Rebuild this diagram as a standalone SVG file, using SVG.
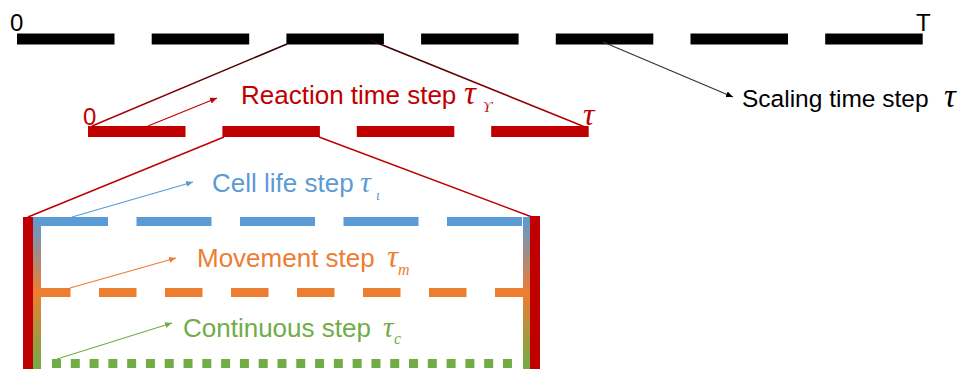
<svg xmlns="http://www.w3.org/2000/svg" width="965" height="372" viewBox="0 0 965 372">
<style>
.sans{font-family:"Liberation Sans",Arial,sans-serif}
.tau{font-family:"Liberation Serif","Times New Roman",serif;font-style:italic}
.thin{fill:none;stroke-width:1.2}
</style>
<defs>
<linearGradient id="topLine" x1="0" y1="0" x2="0" y2="1">
<stop offset="0" stop-color="#2a0000"/><stop offset="1" stop-color="#C00000"/>
</linearGradient>
<linearGradient id="sideBar" gradientUnits="userSpaceOnUse" x1="0" y1="217" x2="0" y2="369">
<stop offset="0" stop-color="#5B9BD5"/><stop offset="0.5" stop-color="#ED7D31"/><stop offset="1" stop-color="#70AD47"/>
</linearGradient>
<marker id="ahBlack" markerUnits="userSpaceOnUse" markerWidth="8" markerHeight="8" refX="7" refY="4" orient="auto"><path d="M0,1 L7,4 L0,7 Z" fill="#000"/></marker>
<marker id="ahRed" markerUnits="userSpaceOnUse" markerWidth="8" markerHeight="8" refX="7" refY="4" orient="auto"><path d="M0,1 L7,4 L0,7 Z" fill="#C00000"/></marker>
<marker id="ahBlue" markerUnits="userSpaceOnUse" markerWidth="8" markerHeight="8" refX="7" refY="4" orient="auto"><path d="M0,1 L7,4 L0,7 Z" fill="#5B9BD5"/></marker>
<marker id="ahOrange" markerUnits="userSpaceOnUse" markerWidth="8" markerHeight="8" refX="7" refY="4" orient="auto"><path d="M0,1 L7,4 L0,7 Z" fill="#ED7D31"/></marker>
<marker id="ahGreen" markerUnits="userSpaceOnUse" markerWidth="8" markerHeight="8" refX="7" refY="4" orient="auto"><path d="M0,1 L7,4 L0,7 Z" fill="#70AD47"/></marker>
</defs>

<g id="scaling-timeline">
<line x1="17" y1="39" x2="923" y2="39" stroke="#000" stroke-width="11" stroke-dasharray="97.5 37.2"/>
<text class="sans" x="10" y="31" font-size="24">0</text>
<text class="sans" x="916" y="31" font-size="24">T</text>
</g>

<g id="reaction-timeline">
<line x1="88" y1="131.5" x2="589" y2="131.5" stroke="#C00000" stroke-width="11" stroke-dasharray="97.5 36.9"/>
<text class="sans" x="83" y="125" font-size="24" fill="#C00000">0</text>
<text class="tau" x="583" y="125" font-size="32" fill="#C00000">τ</text>
</g>

<g id="lower-box">
<line x1="33" y1="221.5" x2="527" y2="221.5" stroke="#5B9BD5" stroke-width="9" stroke-dasharray="75 28.5"/>
<line x1="33" y1="292.5" x2="527" y2="292.5" stroke="#ED7D31" stroke-width="9" stroke-dasharray="37.5 28.5"/>
<line x1="52" y1="363.5" x2="512" y2="363.5" stroke="#70AD47" stroke-width="9" stroke-dasharray="9 9.79"/>
<rect x="33" y="217" width="8" height="152" fill="url(#sideBar)"/>
<rect x="523" y="217" width="7" height="152" fill="url(#sideBar)"/>
<rect x="23" y="217" width="10" height="152" fill="#C00000"/>
<rect x="530" y="216" width="10" height="153" fill="#C00000"/>
</g>

<g id="connectors">
<line x1="287" y1="44" x2="92" y2="126" stroke="url(#topLine)" stroke-width="1.5"/>
<line x1="370" y1="40" x2="585" y2="127" stroke="url(#topLine)" stroke-width="1.5"/>
<line x1="224" y1="137" x2="28" y2="217" stroke="#C00000" stroke-width="1.5"/>
<line x1="319" y1="137" x2="532" y2="217" stroke="#C00000" stroke-width="1.5"/>
<line class="thin" x1="603" y1="42" x2="733" y2="97" stroke="#333" marker-end="url(#ahBlack)"/>
<line class="thin" x1="148" y1="126" x2="217" y2="98" stroke="#C00000" marker-end="url(#ahRed)"/>
<line class="thin" x1="72" y1="217" x2="193" y2="182" stroke="#5B9BD5" marker-end="url(#ahBlue)"/>
<line class="thin" x1="70" y1="288" x2="176" y2="258" stroke="#ED7D31" marker-end="url(#ahOrange)"/>
<line class="thin" x1="57" y1="359" x2="172" y2="323" stroke="#70AD47" marker-end="url(#ahGreen)"/>
</g>

<g id="label-reaction">
<text class="sans" x="241" y="104" font-size="26" fill="#C00000">Reaction time step</text>
<text class="tau" x="464" y="104" font-size="33" fill="#C00000">τ</text>
<text class="tau" x="483" y="112" font-size="14" fill="#C00000">ϒ</text>
</g>
<g id="label-scaling">
<text class="sans" x="742" y="107" font-size="24.5" fill="#000">Scaling time step</text>
<text class="tau" x="944" y="107" font-size="33" fill="#000">τ</text>
</g>
<g id="label-cell">
<text class="sans" x="212" y="192" font-size="26" fill="#5B9BD5">Cell life step</text>
<text class="tau" x="360" y="192" font-size="30" fill="#5B9BD5">τ</text>
<text class="tau" x="376" y="200" font-size="14" fill="#5B9BD5">ι</text>
</g>
<g id="label-movement">
<text class="sans" x="197" y="267" font-size="26" fill="#ED7D31">Movement step</text>
<text class="tau" x="387" y="267" font-size="31" fill="#ED7D31">τ</text>
<text class="tau" x="398" y="275" font-size="16" fill="#ED7D31">m</text>
</g>
<g id="label-continuous">
<text class="sans" x="183" y="337" font-size="26" fill="#70AD47">Continuous step</text>
<text class="tau" x="383" y="337" font-size="29" fill="#70AD47">τ</text>
<text class="tau" x="394" y="344" font-size="16" fill="#70AD47">c</text>
</g>
</svg>
